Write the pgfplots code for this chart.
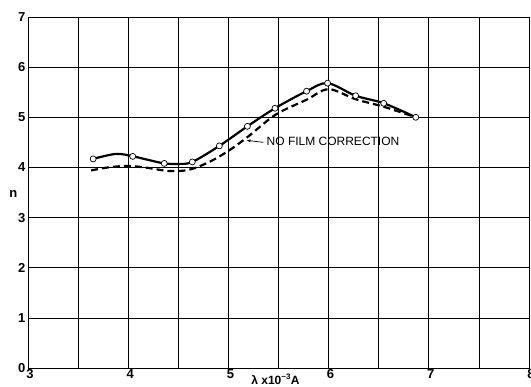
\documentclass[border=0pt]{standalone}
\usepackage{fontspec}
\setmainfont{Liberation Sans}
\usepackage{pgfplots}
\pgfplotsset{compat=1.18}
\usetikzlibrary{arrows.meta}
\begin{document}
\begin{tikzpicture}[x=1pt,y=1pt]
\begin{axis}[
  scale only axis,
  width=501pt, height=351pt,
  xmin=3, xmax=8, ymin=0, ymax=7,
  xtick={3,4,5,6,7,8},
  minor xtick={3.5,4.5,5.5,6.5,7.5},
  ytick={0,1,2,3,4,5,6,7},
  grid=both,
  grid style={black, line width=0.7pt},
  minor grid style={black, line width=0.7pt},
  axis line style={black, line width=0.8pt},
  major tick length=0pt, minor tick length=0pt,
  /pgf/number format/assume math mode=true,
  ticklabel style={font=\fontsize{13}{14}\selectfont\bfseries},
  xticklabel style={xshift=2pt, yshift=2pt},
  yticklabel style={xshift=1pt},
  clip=false,
]
\addplot[black, line width=2.2pt, smooth, tension=0.55] coordinates {
(3.65,4.17) (3.88,4.27) (4.05,4.22) (4.2,4.15) (4.36,4.08) (4.5,4.07)
(4.64,4.11) (4.91,4.43) (5.19,4.82) (5.465,5.18) (5.78,5.52) (5.99,5.68)
(6.27,5.43) (6.55,5.28) (6.87,5.00)
};
\addplot[black, line width=2.2pt, dash pattern=on 7pt off 4pt, smooth, tension=0.55] coordinates {
(3.63,3.94) (3.8,4.0) (4.0,4.03) (4.2,3.99) (4.4,3.93) (4.6,3.95)
(4.8,4.1) (5.0,4.33) (5.2,4.62) (5.47,5.05) (5.78,5.35) (6.0,5.56)
(6.27,5.36) (6.55,5.21) (6.87,5.00)
};
\addplot[only marks, mark=*, mark size=3pt, mark options={fill=white, draw=black, line width=0.7pt}] coordinates {
(3.65,4.17) (4.045,4.22) (4.36,4.08) (4.64,4.11) (4.91,4.43) (5.19,4.82)
(5.465,5.18) (5.78,5.52) (5.99,5.68) (6.27,5.43) (6.55,5.28) (6.87,5.00)
};
\draw[black, line width=0.7pt, -{Latex[length=4pt,width=3pt]}] (axis cs:5.35,4.50) -- (axis cs:5.18,4.54);
\node[anchor=west, font=\fontsize{12}{13}\selectfont, inner sep=0pt] at (axis cs:5.38,4.51) {NO FILM CORRECTION};
\node[font=\fontsize{13}{14}\selectfont\bfseries] at (axis cs:2.855,3.47) {n};
\node[anchor=north, font=\fontsize{12}{13}\selectfont\bfseries, inner sep=0pt] at (axis cs:5.47,-0.12) {λ x10\textsuperscript{−3}A};
\end{axis}
\pgfresetboundingbox
\path (-28pt,-19pt) rectangle (503pt,368pt);
\end{tikzpicture}
\end{document}
